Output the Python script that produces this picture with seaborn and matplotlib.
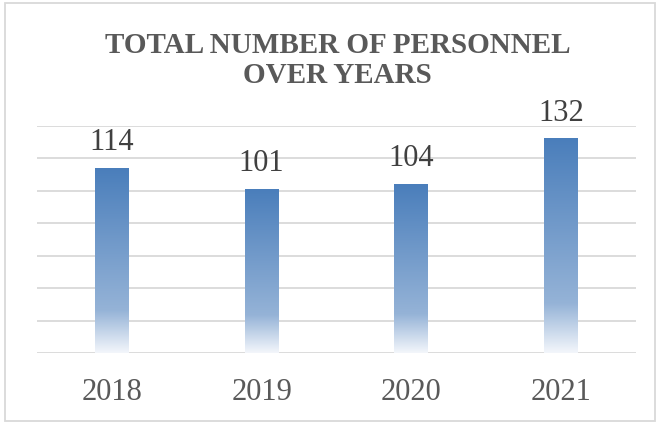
import matplotlib
matplotlib.use("Agg")
import matplotlib.pyplot as plt
import seaborn as sns
import numpy as np
import pandas as pd
from matplotlib.colors import LinearSegmentedColormap
from matplotlib.patches import Rectangle

# data
years = ["2018", "2019", "2020", "2021"]
personnel = [114, 101, 104, 132]

df = pd.DataFrame({"Year": years, "Personnel": personnel})

sns.set_style("white")
plt.rcParams["font.family"] = ["Liberation Serif", "DejaVu Serif"]

fig = plt.figure(figsize=(6.58, 4.24), dpi=100)
ax = fig.add_axes([37 / 658, 71 / 424, 599 / 658, 227 / 424])

sns.barplot(data=df, x="Year", y="Personnel", color="#4F81BD", width=0.227, ax=ax)

# excel style gradient: blue at top fading to white at the base
cmap = LinearSegmentedColormap.from_list(
    "bar_fade", [(0, "#4A7EBB"), (0.77, "#95B3D7"), (1, "#F3F6FB")]
)
grad = np.linspace(0, 1, 256).reshape(-1, 1)
for bar in ax.patches:
    x0, y0 = bar.get_x(), bar.get_y()
    w, h = bar.get_width(), bar.get_height()
    bar.set_facecolor("none")
    bar.set_edgecolor("none")
    ax.imshow(grad, cmap=cmap, aspect="auto", origin="upper",
              extent=[x0, x0 + w, y0, y0 + h], zorder=2)

ax.set_xlim(-0.5, len(years) - 0.5)
ax.set_ylim(0, 140)
ax.set_yticks(range(0, 141, 20))
ax.set_axisbelow(True)
ax.yaxis.grid(True, color="#D9D9D9", linewidth=1.3)
ax.tick_params(axis="y", left=False, labelleft=False)
ax.tick_params(axis="x", length=0, pad=18, labelsize=22, labelcolor="#595959")
ax.set_xlabel("")
ax.set_ylabel("")
sns.despine(ax=ax, left=True, bottom=True)

# value labels
ax.bar_label(ax.containers[0], padding=8, fontsize=22, color="#404040")

fig.text(0.513, 0.857, "TOTAL NUMBER OF PERSONNEL\nOVER YEARS",
         ha="center", va="center", fontsize=21, fontweight="bold",
         color="#595959", linespacing=1.13)

# chart border
fig.patches.append(Rectangle((5 / 658, 3 / 424), 650 / 658, 418 / 424,
                             transform=fig.transFigure, fill=False,
                             edgecolor="#D9D9D9", linewidth=1.3))

plt.savefig("out.png", dpi=100)
